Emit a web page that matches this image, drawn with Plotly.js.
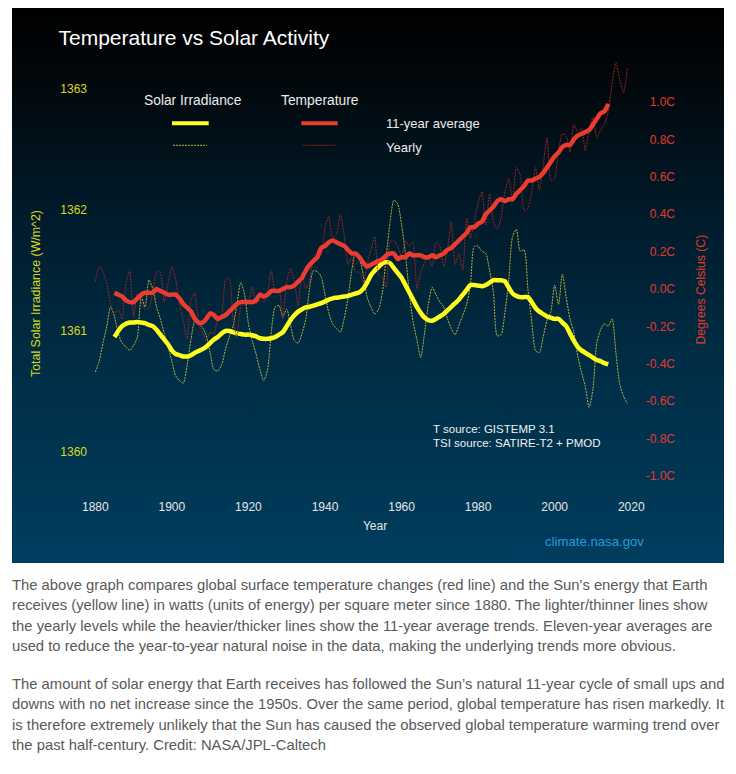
<!DOCTYPE html>
<html>
<head>
<meta charset="utf-8">
<script src="https://cdn.plot.ly/plotly-3.0.1.min.js"></script>
<style>
  html, body { margin: 0; padding: 0; background: #ffffff; width: 736px; height: 774px; overflow: hidden; }
  #box { position: absolute; left: 12px; top: 8px; width: 712px; height: 555px;
         background: linear-gradient(to bottom, #000000 0%, #02080c 14%, #011a29 36%, #002c44 62%, #003d5e 100%); }
  #chart { position: absolute; left: 0; top: 0; width: 712px; height: 555px; }
  #caption { position: absolute; left: 12px; top: 575px; width: 720px;
             font-family: "Liberation Sans", Arial, Helvetica, sans-serif; font-size: 14.8px; color: #595959; }
  #caption .ln { white-space: nowrap; height: 20.3px; line-height: 20.3px; }
  #caption .gap { height: 17.8px; }
</style>
</head>
<body>
<div id="box"><div id="chart"></div></div>
<div id="caption">
  <div class="ln">The above graph compares global surface temperature changes (red line) and the Sun's energy that Earth</div>
  <div class="ln">receives (yellow line) in watts (units of energy) per square meter since 1880. The lighter/thinner lines show</div>
  <div class="ln">the yearly levels while the heavier/thicker lines show the 11-year average trends. Eleven-year averages are</div>
  <div class="ln">used to reduce the year-to-year natural noise in the data, making the underlying trends more obvious.</div>
  <div class="gap"></div>
  <div class="ln">The amount of solar energy that Earth receives has followed the Sun’s natural 11-year cycle of small ups and</div>
  <div class="ln">downs with no net increase since the 1950s. Over the same period, global temperature has risen markedly. It</div>
  <div class="ln">is therefore extremely unlikely that the Sun has caused the observed global temperature warming trend over</div>
  <div class="ln">the past half-century. Credit: NASA/JPL-Caltech</div>
</div>
<script>
// ---- Data ----
const yearlyStart = 1880;   // yearly series 1880-2019
const averageStart = 1885;  // 11-year centred averages 1885-2014

// Total solar irradiance, yearly (W/m^2)
const tsiYearly = [
  1360.66,1360.75,1360.90,1361.04,1361.20,1361.12,1360.98,1360.90,1360.87,1360.84,
  1360.88,1360.95,1361.28,1361.20,1361.42,1361.35,1361.20,1361.10,1360.98,1360.87,
  1360.75,1360.63,1360.59,1360.57,1360.72,1360.93,1361.08,1361.06,1361.03,1360.96,
  1360.82,1360.68,1360.67,1360.72,1360.85,1360.95,1361.04,1361.22,1361.40,1361.30,
  1361.06,1360.92,1360.81,1360.68,1360.59,1360.68,1361.00,1361.20,1361.21,1361.12,
  1361.18,1361.05,1360.92,1360.90,1360.98,1361.10,1361.36,1361.50,1361.49,1361.45,
  1361.30,1361.15,1361.06,1361.02,1360.99,1361.10,1361.27,1361.50,1361.65,1361.60,
  1361.46,1361.28,1361.20,1361.14,1361.18,1361.32,1361.62,1361.90,1362.08,1362.05,
  1361.88,1361.64,1361.32,1361.08,1360.93,1360.78,1360.98,1361.22,1361.36,1361.30,
  1361.24,1361.20,1361.10,1361.02,1360.97,1361.05,1361.13,1361.22,1361.38,1361.70,
  1361.70,1361.66,1361.64,1361.50,1361.32,1360.96,1360.97,1361.15,1361.42,1361.78,
  1361.84,1361.66,1361.67,1361.35,1361.08,1360.84,1360.82,1360.95,1361.09,1361.16,
  1361.38,1361.22,1361.47,1361.28,1361.10,1360.99,1360.80,1360.66,1360.54,1360.37,
  1360.52,1360.90,1361.01,1361.06,1361.04,1361.10,1360.82,1360.56,1360.46,1360.40
];

// Total solar irradiance, 11-year average (W/m^2)
const tsiAverage = [
  1360.95,1361.00,1361.04,1361.06,1361.07,1361.07,1361.075,1361.07,1361.065,1361.05,
  1361.04,1361.01,1360.97,1360.93,1360.89,1360.84,1360.81,1360.80,1360.79,1360.79,
  1360.80,1360.82,1360.835,1360.85,1360.87,1360.90,1360.93,1360.95,1360.98,1361.00,
  1361.00,1360.99,1360.98,1360.975,1360.97,1360.97,1360.965,1360.955,1360.94,1360.935,
  1360.935,1360.94,1360.95,1360.97,1360.99,1361.04,1361.09,1361.13,1361.16,1361.18,
  1361.195,1361.20,1361.21,1361.22,1361.23,1361.245,1361.26,1361.27,1361.275,1361.28,
  1361.285,1361.29,1361.30,1361.31,1361.32,1361.35,1361.40,1361.46,1361.50,1361.53,
  1361.56,1361.57,1361.56,1361.52,1361.48,1361.44,1361.38,1361.32,1361.26,1361.20,
  1361.15,1361.11,1361.09,1361.085,1361.10,1361.12,1361.14,1361.17,1361.20,1361.23,
  1361.26,1361.30,1361.34,1361.38,1361.38,1361.375,1361.37,1361.38,1361.40,1361.42,
  1361.42,1361.42,1361.41,1361.36,1361.31,1361.29,1361.28,1361.28,1361.28,1361.24,
  1361.19,1361.16,1361.14,1361.12,1361.11,1361.10,1361.10,1361.07,1361.04,1360.98,
  1360.92,1360.87,1360.84,1360.82,1360.80,1360.78,1360.76,1360.75,1360.735,1360.725
];

// Temperature, yearly (degrees C, as plotted)
const tempYearly = [
  0.04,0.12,0.09,0.03,-0.08,-0.13,-0.11,-0.16,0.03,0.10,
  -0.15,-0.02,-0.07,-0.11,-0.10,-0.02,0.09,0.09,-0.07,0.03,
  0.12,0.05,-0.08,-0.17,-0.27,-0.06,-0.02,-0.19,-0.23,-0.28,
  -0.23,-0.24,-0.16,-0.14,0.05,0.06,-0.16,-0.26,-0.09,-0.07,
  -0.07,0.01,-0.08,-0.06,-0.07,-0.02,0.10,-0.02,0.00,-0.16,
  0.04,0.11,0.04,-0.09,0.08,0.00,0.05,0.17,0.20,0.18,
  0.33,0.39,0.27,0.29,0.40,0.29,0.13,0.17,0.09,0.09,
  0.03,0.13,0.21,0.28,0.07,0.06,0.01,0.25,0.26,0.23,
  0.17,0.26,0.23,0.25,0.00,0.09,0.14,0.18,0.12,0.25,
  0.23,0.12,0.21,0.36,0.13,0.19,0.10,0.38,0.27,0.36,
  0.46,0.52,0.34,0.51,0.36,0.32,0.38,0.52,0.59,0.47,
  0.65,0.61,0.42,0.43,0.52,0.65,0.53,0.66,0.81,0.58,
  0.59,0.74,0.83,0.82,0.73,0.88,0.84,0.86,0.74,0.85,
  0.92,0.81,0.85,0.88,0.95,1.10,1.21,1.12,1.05,1.18
];

// Temperature, 11-year average (degrees C, as plotted)
const tempAverage = [
  -0.02,-0.03,-0.04,-0.06,-0.07,-0.07,-0.05,-0.03,-0.02,-0.02,
  -0.02,0.00,-0.01,-0.02,-0.03,-0.03,-0.03,-0.05,-0.08,-0.10,
  -0.12,-0.16,-0.18,-0.18,-0.16,-0.13,-0.14,-0.16,-0.15,-0.14,
  -0.12,-0.10,-0.08,-0.07,-0.07,-0.07,-0.07,-0.06,-0.03,-0.04,
  -0.03,-0.01,-0.01,-0.01,0.00,0.01,0.01,0.02,0.04,0.06,
  0.10,0.13,0.15,0.17,0.22,0.23,0.25,0.26,0.25,0.24,
  0.23,0.21,0.19,0.19,0.17,0.14,0.12,0.13,0.14,0.15,
  0.16,0.18,0.19,0.19,0.16,0.17,0.17,0.19,0.18,0.18,
  0.18,0.17,0.17,0.18,0.17,0.18,0.19,0.21,0.22,0.24,
  0.26,0.28,0.30,0.33,0.33,0.35,0.36,0.40,0.42,0.44,
  0.47,0.48,0.47,0.48,0.48,0.51,0.53,0.55,0.58,0.58,
  0.59,0.60,0.62,0.65,0.68,0.71,0.73,0.76,0.77,0.77,
  0.80,0.82,0.83,0.84,0.85,0.88,0.91,0.94,0.95,0.99
];

const xTickVals = [1880,1900,1920,1940,1960,1980,2000,2020];
const tsiTickVals = [1360,1361,1362,1363];
const tempTickVals = [-1.0,-0.8,-0.6,-0.4,-0.2,0.0,0.2,0.4,0.6,0.8,1.0];
const tempTickText = ["-1.0C","-0.8C","-0.6C","-0.4C","-0.2C","0.0C","0.2C","0.4C","0.6C","0.8C","1.0C"];

const yearsYearly = tsiYearly.map((_, i) => yearlyStart + i);
const yearsAverage = tsiAverage.map((_, i) => averageStart + i);

// ---- Styles ----
const FONT = "Liberation Sans, Arial, Helvetica, sans-serif";
const YELLOW = "#ffff1f";
const RED = "#ec3b2f";
const YELLOW_THIN = "rgba(205,205,60,0.85)";
const RED_THIN = "rgba(165,38,38,0.9)";
const YELLOW_LABEL = "#d9d91c";
const RED_LABEL = "#e2392c";

const traces = [
  { x: yearsYearly, y: tsiYearly, yaxis: "y", type: "scatter", mode: "lines",
    line: { color: YELLOW_THIN, width: 1, dash: "2px,1px", shape: "spline", smoothing: 0.7 } },
  { x: yearsYearly, y: tempYearly, yaxis: "y2", type: "scatter", mode: "lines",
    line: { color: RED_THIN, width: 1, dash: "2px,1px", shape: "spline", smoothing: 0.5 } },
  { x: yearsAverage, y: tsiAverage, yaxis: "y", type: "scatter", mode: "lines",
    line: { color: YELLOW, width: 4.5, shape: "spline", smoothing: 0.6 } },
  { x: yearsAverage, y: tempAverage, yaxis: "y2", type: "scatter", mode: "lines",
    line: { color: RED, width: 4.5, shape: "spline", smoothing: 0.6 } }
];

// helpers: page-pixel -> paper fraction (figure at left 12, top 8, 712x555, zero margins)
const px = p => (p - 12) / 712;
const py = p => (563 - p) / 555;

const layout = {
  width: 712, height: 555,
  margin: { l: 0, r: 0, t: 0, b: 0, pad: 0 },
  paper_bgcolor: "rgba(0,0,0,0)",
  plot_bgcolor: "rgba(0,0,0,0)",
  showlegend: false,
  hovermode: false,
  font: { family: FONT, color: "#e8e8e8" },
  title: { text: "Temperature vs Solar Activity", xref: "container", yref: "container",
           x: px(58.5), xanchor: "left", y: py(38), yanchor: "middle",
           font: { family: FONT, size: 21, color: "#ffffff" } },
  xaxis: {
    domain: [px(70), px(680)], range: [1873.39, 2032.74],
    tickvals: xTickVals, ticks: "", showgrid: false, zeroline: false, showline: false,
    tickfont: { family: FONT, size: 12, color: "#e6e6e6" }, ticklabelstandoff: 6,
    title: { text: "Year", font: { family: FONT, size: 12, color: "#e6e6e6" }, standoff: 8 }
  },
  yaxis: {
    domain: [py(492), py(50)], range: [1359.6694, 1363.3223],
    anchor: "free", position: px(89), side: "left",
    tickvals: tsiTickVals, ticks: "", showgrid: false, zeroline: false, showline: false,
    tickfont: { family: FONT, size: 12, color: YELLOW_LABEL }, ticklabelstandoff: 2
  },
  yaxis2: {
    domain: [py(492), py(50)], range: [-1.08556, 1.27807],
    overlaying: "y", anchor: "free", position: px(680), side: "right",
    ticklabelposition: "inside",
    tickvals: tempTickVals, ticktext: tempTickText, ticks: "",
    showgrid: false, zeroline: false, showline: false,
    tickfont: { family: FONT, size: 12, color: RED_LABEL }, ticklabelstandoff: 2
  },
  shapes: [
    { type: "line", xref: "paper", yref: "paper", x0: px(172), x1: px(208.7), y0: py(123.3), y1: py(123.3),
      line: { color: YELLOW, width: 4 } },
    { type: "line", xref: "paper", yref: "paper", x0: px(301.3), x1: px(337.7), y0: py(123.3), y1: py(123.3),
      line: { color: RED, width: 4 } },
    { type: "line", xref: "paper", yref: "paper", x0: px(173), x1: px(207), y0: py(145.3), y1: py(145.3),
      line: { color: YELLOW_THIN, width: 1, dash: "2px,1px" } },
    { type: "line", xref: "paper", yref: "paper", x0: px(302.7), x1: px(336), y0: py(145.3), y1: py(145.3),
      line: { color: RED_THIN, width: 1, dash: "2px,1px" } }
  ],
  annotations: [
    { text: "Solar Irradiance", xref: "paper", yref: "paper", x: px(192.9), y: py(101), xanchor: "center", yanchor: "middle",
      showarrow: false, font: { family: FONT, size: 13.8, color: "#ececec" } },
    { text: "Temperature", xref: "paper", yref: "paper", x: px(320.3), y: py(101), xanchor: "center", yanchor: "middle",
      showarrow: false, font: { family: FONT, size: 13.8, color: "#ececec" } },
    { text: "11-year average", xref: "paper", yref: "paper", x: px(384), y: py(124), xanchor: "left", yanchor: "middle",
      showarrow: false, font: { family: FONT, size: 13, color: "#ececec" } },
    { text: "Yearly", xref: "paper", yref: "paper", x: px(384), y: py(147), xanchor: "left", yanchor: "middle",
      showarrow: false, font: { family: FONT, size: 13, color: "#ececec" } },
    { text: "T source: GISTEMP 3.1", xref: "paper", yref: "paper", x: px(430.7), y: py(429.3), xanchor: "left", yanchor: "middle",
      showarrow: false, font: { family: FONT, size: 11.5, color: "#f0f0f0" } },
    { text: "TSI source: SATIRE-T2 + PMOD", xref: "paper", yref: "paper", x: px(430.7), y: py(443.3), xanchor: "left", yanchor: "middle",
      showarrow: false, font: { family: FONT, size: 11.5, color: "#f0f0f0" } },
    { text: "climate.nasa.gov", xref: "paper", yref: "paper", x: px(594.5), y: py(541), xanchor: "center", yanchor: "middle",
      showarrow: false, font: { family: FONT, size: 13.2, color: "#2a9ad6" } },
    { text: "Total Solar Irradiance (W/m^2)", xref: "paper", yref: "paper", x: px(36), y: py(294), xanchor: "center", yanchor: "middle",
      textangle: -90, showarrow: false, font: { family: FONT, size: 12.4, color: YELLOW_LABEL } },
    { text: "Degrees Celsius (C)", xref: "paper", yref: "paper", x: px(700.5), y: py(290), xanchor: "center", yanchor: "middle",
      textangle: -90, showarrow: false, font: { family: FONT, size: 12.2, color: RED_LABEL } }
  ]
};

Plotly.newPlot("chart", traces, layout, { staticPlot: true, displayModeBar: false });
</script>
</body>
</html>
